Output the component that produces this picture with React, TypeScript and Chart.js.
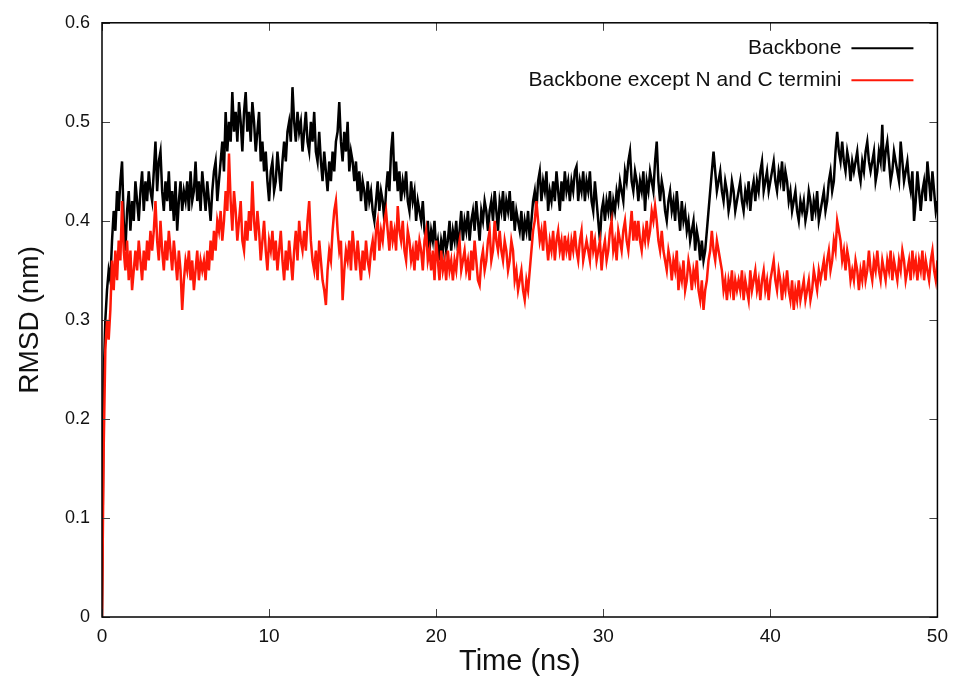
import React, { useEffect, useRef } from 'react';
import { Chart, registerables } from 'chart.js';

Chart.register(...registerables);

// Sampling interval of the trajectory (ns); values below are read every 0.1 ns from t = 0
const SAMPLE_STEP_NS = 0.1;

const seriesLabels = ['Backbone', 'Backbone except N and C termini'];

// RMSD (nm) of backbone — one row per nanosecond
const backbone = [
  0.0,
  0.24, 0.30, 0.33, 0.35, 0.34, 0.38, 0.41, 0.39, 0.43, 0.41,
  0.44, 0.46, 0.40, 0.37, 0.41, 0.43, 0.39, 0.42, 0.40, 0.44,
  0.42, 0.40, 0.43, 0.45, 0.41, 0.44, 0.42, 0.45, 0.43, 0.42,
  0.45, 0.48, 0.43, 0.46, 0.47, 0.43, 0.41, 0.44, 0.42, 0.45,
  0.41, 0.43, 0.40, 0.44, 0.39, 0.42, 0.44, 0.41, 0.43, 0.42,
  0.44, 0.41, 0.45, 0.42, 0.43, 0.46, 0.42, 0.44, 0.41, 0.45,
  0.43, 0.41, 0.44, 0.42, 0.40, 0.43, 0.45, 0.46, 0.42, 0.44,
  0.46, 0.48, 0.45, 0.51, 0.47, 0.50, 0.48, 0.53, 0.49, 0.51,
  0.48, 0.52, 0.50, 0.47, 0.51, 0.53, 0.49, 0.51, 0.48, 0.52,
  0.50, 0.47, 0.49, 0.51, 0.46, 0.48, 0.45, 0.47, 0.44, 0.42,
  0.45, 0.46, 0.43, 0.44, 0.47, 0.45, 0.43, 0.46, 0.48, 0.46,
  0.49, 0.50, 0.48, 0.535, 0.50, 0.48, 0.51, 0.49, 0.50, 0.47,
  0.49, 0.51, 0.48, 0.47, 0.50, 0.48, 0.51, 0.47, 0.46, 0.49,
  0.46, 0.44, 0.47, 0.45, 0.43, 0.46, 0.44, 0.47, 0.45, 0.48,
  0.49, 0.52, 0.48, 0.46, 0.49, 0.47, 0.50, 0.45, 0.47, 0.46,
  0.44, 0.46, 0.43, 0.45, 0.42, 0.44, 0.43, 0.41, 0.44, 0.42,
  0.43, 0.41, 0.40, 0.42, 0.44, 0.41, 0.43, 0.42, 0.40, 0.43,
  0.45, 0.43, 0.47, 0.49, 0.44, 0.46, 0.43, 0.45, 0.42, 0.44,
  0.43, 0.45, 0.42, 0.41, 0.44, 0.42, 0.43, 0.40, 0.42, 0.41,
  0.40, 0.42, 0.39, 0.38, 0.40, 0.37, 0.39, 0.38, 0.40, 0.37,
  0.38, 0.36, 0.38, 0.37, 0.39, 0.37, 0.38, 0.40, 0.37, 0.39,
  0.38, 0.40, 0.37, 0.39, 0.41, 0.38, 0.40, 0.39, 0.41, 0.38,
  0.40, 0.41, 0.39, 0.42, 0.40, 0.38, 0.41, 0.40, 0.42, 0.41,
  0.39, 0.41, 0.42, 0.40, 0.43, 0.41, 0.39, 0.42, 0.41, 0.43,
  0.40, 0.42, 0.41, 0.43, 0.40, 0.42, 0.39, 0.41, 0.40, 0.39,
  0.41, 0.38, 0.40, 0.39, 0.41, 0.38, 0.40, 0.42, 0.43, 0.41,
  0.44, 0.45, 0.42, 0.44, 0.43, 0.45, 0.41, 0.43, 0.42, 0.44,
  0.42, 0.45, 0.43, 0.41, 0.44, 0.42, 0.45, 0.43, 0.44, 0.42,
  0.44, 0.43, 0.45, 0.455, 0.42, 0.44, 0.43, 0.45, 0.42, 0.44,
  0.43, 0.45, 0.42, 0.41, 0.44, 0.42, 0.40, 0.38, 0.41, 0.42,
  0.40, 0.42, 0.41, 0.43, 0.40, 0.42, 0.41, 0.43, 0.42, 0.44,
  0.43, 0.42, 0.45, 0.44, 0.46, 0.47, 0.44, 0.43, 0.45, 0.44,
  0.42, 0.44, 0.43, 0.45, 0.41, 0.44, 0.43, 0.45, 0.44, 0.43,
  0.46, 0.48, 0.44, 0.42, 0.44, 0.43, 0.41, 0.40, 0.42, 0.43,
  0.41, 0.42, 0.40, 0.43, 0.41, 0.39, 0.42, 0.40, 0.41, 0.39,
  0.40, 0.38, 0.39, 0.40, 0.37, 0.39, 0.38, 0.36, 0.38, 0.36,
  0.37, 0.39, 0.41, 0.43, 0.45, 0.47, 0.45, 0.43, 0.44, 0.45,
  0.43, 0.42, 0.44, 0.43, 0.41, 0.42, 0.44, 0.43, 0.41, 0.42,
  0.43, 0.44, 0.42, 0.41, 0.43, 0.42, 0.44, 0.41, 0.43, 0.44,
  0.42, 0.44, 0.43, 0.45, 0.46, 0.43, 0.44, 0.45, 0.43, 0.44,
  0.45, 0.46, 0.44, 0.43, 0.45, 0.44, 0.46, 0.43, 0.45, 0.44,
  0.42, 0.43, 0.41, 0.42, 0.43, 0.41, 0.40, 0.42, 0.41, 0.42,
  0.40, 0.41, 0.43, 0.42, 0.40, 0.42, 0.41, 0.43, 0.40, 0.41,
  0.42, 0.43, 0.41, 0.42, 0.44, 0.45, 0.43, 0.44, 0.47, 0.49,
  0.47, 0.46, 0.48, 0.46, 0.45, 0.47, 0.46, 0.44, 0.46, 0.45,
  0.46, 0.47, 0.45, 0.44, 0.46, 0.45, 0.47, 0.48, 0.46, 0.45,
  0.46, 0.47, 0.44, 0.45, 0.47, 0.46, 0.497, 0.45, 0.47, 0.48,
  0.46, 0.44, 0.45, 0.47, 0.46, 0.45, 0.44, 0.48, 0.46, 0.44,
  0.45, 0.46, 0.44, 0.43, 0.45, 0.40, 0.42, 0.45, 0.43, 0.41,
  0.43, 0.44, 0.42, 0.46, 0.44, 0.42, 0.45, 0.43, 0.41, 0.42,
];

// RMSD (nm) of backbone except N and C termini — one row per nanosecond
const backboneCore = [
  0.0,
  0.17, 0.27, 0.30, 0.28, 0.31, 0.36, 0.33, 0.37, 0.34, 0.38,
  0.36, 0.42, 0.37, 0.35, 0.38, 0.34, 0.37, 0.33, 0.35, 0.37,
  0.35, 0.38, 0.36, 0.34, 0.37, 0.35, 0.38, 0.36, 0.39, 0.37,
  0.39, 0.42, 0.38, 0.36, 0.40, 0.37, 0.35, 0.38, 0.36, 0.39,
  0.37, 0.35, 0.38, 0.36, 0.34, 0.37, 0.35, 0.31, 0.34, 0.36,
  0.35, 0.37, 0.34, 0.36, 0.33, 0.35, 0.37, 0.34, 0.36, 0.35,
  0.36, 0.34, 0.37, 0.35, 0.38, 0.36, 0.39, 0.37, 0.40, 0.39,
  0.41, 0.38, 0.40, 0.43, 0.41, 0.468, 0.42, 0.39, 0.43, 0.41,
  0.38, 0.40, 0.42, 0.38, 0.37, 0.40, 0.38, 0.41, 0.39, 0.44,
  0.40, 0.38, 0.41, 0.39, 0.36, 0.38, 0.40, 0.37, 0.35, 0.38,
  0.37, 0.39, 0.36, 0.38, 0.35, 0.37, 0.39, 0.36, 0.34, 0.37,
  0.35, 0.38, 0.36, 0.34, 0.37, 0.39, 0.36, 0.40, 0.38, 0.37,
  0.39, 0.37, 0.40, 0.42, 0.38, 0.36, 0.35, 0.37, 0.34, 0.38,
  0.36, 0.34, 0.33, 0.315, 0.35, 0.37, 0.36, 0.39, 0.41, 0.42,
  0.39, 0.37, 0.38, 0.32, 0.35, 0.37, 0.36, 0.38, 0.35, 0.39,
  0.37, 0.35, 0.38, 0.36, 0.34, 0.37, 0.35, 0.38, 0.36, 0.35,
  0.37, 0.38, 0.36, 0.39, 0.40, 0.37, 0.39, 0.38, 0.40, 0.41,
  0.39, 0.37, 0.40, 0.38, 0.39, 0.37, 0.415, 0.39, 0.38, 0.40,
  0.37, 0.36, 0.39, 0.38, 0.36, 0.37, 0.35, 0.38, 0.36, 0.38,
  0.37, 0.35, 0.38, 0.39, 0.36, 0.37, 0.35, 0.37, 0.34, 0.38,
  0.36, 0.34, 0.37, 0.35, 0.36, 0.34, 0.37, 0.35, 0.36, 0.34,
  0.36, 0.35, 0.37, 0.38, 0.35, 0.36, 0.37, 0.35, 0.36, 0.34,
  0.37, 0.35, 0.38, 0.36, 0.34, 0.335, 0.36, 0.37, 0.35, 0.36,
  0.38, 0.39, 0.36, 0.37, 0.40, 0.38, 0.37, 0.39, 0.37, 0.36,
  0.38, 0.37, 0.35, 0.36, 0.38, 0.37, 0.34, 0.35, 0.33, 0.34,
  0.35, 0.33, 0.32, 0.34, 0.33, 0.35, 0.37, 0.39, 0.40, 0.42,
  0.40, 0.38, 0.39, 0.37, 0.40, 0.38, 0.36, 0.38, 0.37, 0.39,
  0.36, 0.38, 0.39, 0.37, 0.38, 0.36, 0.385, 0.37, 0.38, 0.36,
  0.38, 0.37, 0.39, 0.37, 0.36, 0.38, 0.39, 0.36, 0.37, 0.38,
  0.37, 0.36, 0.39, 0.37, 0.38, 0.36, 0.37, 0.38, 0.35, 0.37,
  0.38, 0.36, 0.37, 0.39, 0.40, 0.37, 0.38, 0.36, 0.39, 0.38,
  0.37, 0.39, 0.40, 0.38, 0.37, 0.39, 0.41, 0.38, 0.40, 0.38,
  0.40, 0.38, 0.37, 0.39, 0.38, 0.40, 0.38, 0.39, 0.41, 0.40,
  0.415, 0.40, 0.38, 0.37, 0.39, 0.37, 0.36, 0.35, 0.37, 0.36,
  0.34, 0.36, 0.35, 0.37, 0.33, 0.35, 0.34, 0.36, 0.33, 0.34,
  0.36, 0.35, 0.33, 0.35, 0.34, 0.36, 0.33, 0.32, 0.34, 0.31,
  0.33, 0.34, 0.36, 0.37, 0.39, 0.37, 0.36, 0.38, 0.37, 0.36,
  0.35, 0.33, 0.34, 0.32, 0.34, 0.33, 0.35, 0.32, 0.34, 0.33,
  0.34, 0.33, 0.35, 0.32, 0.34, 0.33, 0.32, 0.35, 0.33, 0.34,
  0.35, 0.33, 0.34, 0.32, 0.34, 0.35, 0.33, 0.34, 0.32, 0.34,
  0.35, 0.36, 0.34, 0.33, 0.35, 0.34, 0.32, 0.34, 0.33, 0.35,
  0.33, 0.32, 0.34, 0.31, 0.33, 0.32, 0.34, 0.32, 0.33, 0.34,
  0.32, 0.33, 0.34, 0.32, 0.33, 0.35, 0.34, 0.33, 0.35, 0.34,
  0.35, 0.36, 0.34, 0.36, 0.37, 0.35, 0.36, 0.38, 0.37, 0.40,
  0.39, 0.38, 0.36, 0.37, 0.35, 0.37, 0.36, 0.34, 0.35, 0.34,
  0.36, 0.35, 0.33, 0.35, 0.34, 0.36, 0.34, 0.35, 0.37, 0.35,
  0.34, 0.36, 0.35, 0.37, 0.35, 0.34, 0.36, 0.35, 0.34, 0.36,
  0.35, 0.37, 0.34, 0.36, 0.35, 0.34, 0.36, 0.35, 0.37, 0.36,
  0.34, 0.35, 0.36, 0.34, 0.37, 0.35, 0.36, 0.34, 0.36, 0.35,
  0.37, 0.34, 0.36, 0.35, 0.34, 0.36, 0.37, 0.35, 0.34, 0.36,
];

const xTicks = [0, 10, 20, 30, 40, 50];
const yTicks = [0, 0.1, 0.2, 0.3, 0.4, 0.5, 0.6];

const COLORS = ['#000000', 'rgb(255,24,8)'];
const FONT = '"Liberation Sans", Arial, sans-serif';

const toPoints = (arr: number[]) => arr.map((v, i) => ({ x: +(i * SAMPLE_STEP_NS).toFixed(2), y: v }));

const framePlugin = {
  id: 'gnuFrame',
  afterDatasetsDraw(chart: any) {
    const { ctx, chartArea } = chart;
    const { left, right, top, bottom } = chartArea;
    const xs = chart.scales.x;
    const ys = chart.scales.y;
    ctx.save();
    // inward ticks on all four sides
    ctx.strokeStyle = '#444';
    ctx.lineWidth = 1;
    const L = 8;
    ctx.beginPath();
    for (const t of xTicks) {
      const px = Math.round(xs.getPixelForValue(t)) + 0.5;
      ctx.moveTo(px, bottom);
      ctx.lineTo(px, bottom - L);
      ctx.moveTo(px, top);
      ctx.lineTo(px, top + L);
    }
    for (const t of yTicks) {
      const py = Math.round(ys.getPixelForValue(t)) + 0.5;
      ctx.moveTo(left, py);
      ctx.lineTo(left + L, py);
      ctx.moveTo(right, py);
      ctx.lineTo(right - L, py);
    }
    ctx.stroke();
    // border
    ctx.strokeStyle = '#000';
    ctx.lineWidth = 1.5;
    ctx.strokeRect(left, top, right - left, bottom - top);
    // key
    ctx.font = `21px ${FONT}`;
    ctx.textAlign = 'right';
    ctx.textBaseline = 'middle';
    ctx.fillStyle = '#111';
    seriesLabels.forEach((label, i) => {
      const yy = top + 25 + i * 32;
      ctx.fillText(label, right - 96, yy);
      ctx.strokeStyle = COLORS[i];
      ctx.lineWidth = 2;
      ctx.beginPath();
      ctx.moveTo(right - 86, yy + 0.5);
      ctx.lineTo(right - 24, yy + 0.5);
      ctx.stroke();
    });
    ctx.restore();
  },
};

export default function App() {
  const canvasRef = useRef<HTMLCanvasElement | null>(null);

  useEffect(() => {
    document.body.style.margin = '0';
    const canvas = canvasRef.current;
    if (!canvas) return;
    const chart = new Chart(canvas, {
      type: 'line',
      data: {
        datasets: [
          {
            label: seriesLabels[0],
            data: toPoints(backbone),
            borderColor: COLORS[0],
            borderWidth: 2.5,
            pointRadius: 0,
            tension: 0,
            order: 1,
          },
          {
            label: seriesLabels[1],
            data: toPoints(backboneCore),
            borderColor: COLORS[1],
            borderWidth: 2.5,
            pointRadius: 0,
            tension: 0,
            order: 0,
          },
        ],
      },
      options: {
        animation: false,
        responsive: false,
        maintainAspectRatio: false,
        layout: { padding: { top: 21, right: 18, left: 0, bottom: 0 } },
        plugins: {
          legend: { display: false },
          tooltip: { enabled: false },
        },
        scales: {
          x: {
            type: 'linear',
            min: 0,
            max: 50,
            grid: { display: false, drawTicks: false },
            border: { display: false },
            afterFit: (s: any) => { s.height = 62; },
            afterBuildTicks: (s: any) => { s.ticks = xTicks.map((v) => ({ value: v })); },
            ticks: {
              padding: 8,
              color: '#111',
              font: { family: FONT, size: 19 },
              maxRotation: 0,
              autoSkip: false,
              callback: (v: any) => String(v),
            },
            title: {
              display: true,
              text: 'Time (ns)',
              color: '#111',
              font: { family: FONT, size: 29 },
              padding: { top: 0, bottom: 0 },
            },
          },
          y: {
            type: 'linear',
            min: 0,
            max: 0.6,
            grid: { display: false, drawTicks: false },
            border: { display: false },
            afterFit: (s: any) => { s.width = 102; },
            afterBuildTicks: (s: any) => { s.ticks = yTicks.map((v) => ({ value: v })); },
            ticks: {
              padding: 12,
              color: '#111',
              font: { family: FONT, size: 18 },
              callback: (v: any) => (Number(v) === 0 ? '0' : Number(v).toFixed(1)),
            },
            title: {
              display: true,
              text: 'RMSD (nm)',
              color: '#111',
              font: { family: FONT, size: 28 },
              padding: { top: 13, bottom: 0 },
            },
          },
        },
      },
      plugins: [framePlugin],
    });
    return () => chart.destroy();
  }, []);

  return (
    <div style={{ position: 'absolute', left: 0, top: 0, width: 956, height: 679 }}>
      <canvas ref={canvasRef} width={956} height={679} style={{ display: 'block', width: 956, height: 679 }} />
    </div>
  );
}
